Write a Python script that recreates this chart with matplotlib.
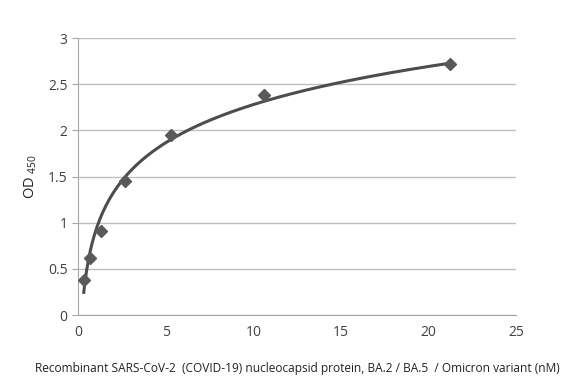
import numpy as np
import matplotlib
matplotlib.use("Agg")
import matplotlib.pyplot as plt

plt.rcParams['font.family'] = ['Open Sans', 'DejaVu Sans']

conc_nM = [0.33, 0.66, 1.33, 2.66, 5.3, 10.6, 21.2]
od450 = [0.38, 0.62, 0.91, 1.45, 1.95, 2.38, 2.72]

# logarithmic trendline fitted to the points
slope, icpt = np.polyfit(np.log(conc_nM), od450, 1)
xfit = np.linspace(conc_nM[0], conc_nM[-1], 400)
yfit = slope * np.log(xfit) + icpt

fig = plt.figure(figsize=(5.82, 3.80), dpi=100)
ax = fig.add_axes([0.134, 0.171, 0.753, 0.729])

ax.plot(xfit, yfit, color="#4d4d4d", lw=2.2, zorder=3)
ax.plot(conc_nM, od450, ls="none", marker="D", ms=6, color="#595959", zorder=4)

ax.set_xlim(0, 25)
ax.set_ylim(0, 3)
ax.set_xticks([0, 5, 10, 15, 20, 25])
ax.set_yticks([0, 0.5, 1, 1.5, 2, 2.5, 3])
ax.set_yticklabels(["0", "0.5", "1", "1.5", "2", "2.5", "3"])
ax.grid(axis="y", color="#bfbfbf", lw=1)
ax.set_axisbelow(True)
for s in ["top", "right"]:
    ax.spines[s].set_visible(False)
for s in ["left", "bottom"]:
    ax.spines[s].set_color("#a6a6a6")
ax.tick_params(axis="both", colors="#a6a6a6", labelcolor="#404040", labelsize=10, length=4)
ax.tick_params(axis="x", length=0, pad=7)

ax.set_ylabel(r"OD $_{\mathregular{450}}$", fontsize=10.5, color="#222222")
ax.yaxis.set_label_coords(-0.09, 0.5)
ax.set_xlabel("Recombinant SARS-CoV-2  (COVID-19) nucleocapsid protein, BA.2 / BA.5  / Omicron variant (nM)",
              fontsize=8.6, color="#222222")
ax.xaxis.set_label_coords(0.5, -0.17)

fig.savefig("out.png", dpi=100)
